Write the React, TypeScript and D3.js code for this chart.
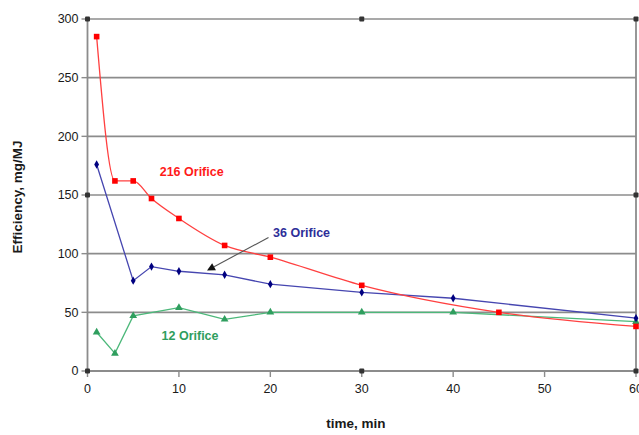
import React from "react";
import * as d3 from "d3";

const xTicks = [0, 10, 20, 30, 40, 50, 60];
const yTicks = [0, 50, 100, 150, 200, 250, 300];

const redX = [1, 3, 5, 7, 10, 15, 20, 30, 45, 60];
const redY = [285, 162, 162, 147, 130, 107, 97, 73, 50, 38];

const blueX = [1, 5, 7, 10, 15, 20, 30, 40, 60];
const blueY = [176, 77, 89, 85, 82, 74, 67, 62, 45];

const greenX = [1, 3, 5, 10, 15, 20, 30, 40, 60];
const greenY = [33, 15, 47, 54, 44, 50, 50, 50, 42];

const labels = [
  { text: "216 Orifice", x: 7.9, y: 170, color: "#ff1a1a" },
  { text: "36 Orifice", x: 20.3, y: 118, color: "#2e2e99" },
  { text: "12 Orifice", x: 8.1, y: 30, color: "#2f9e5e" },
];

const FONT = "'Liberation Sans', Arial, sans-serif";

export default function App() {
  const W = 639;
  const H = 435;
  const x = d3.scaleLinear().domain([0, 60]).range([87.5, 636]);
  const y = d3.scaleLinear().domain([0, 300]).range([371, 19]);

  const smooth = d3
    .line<[number, number]>()
    .x((d) => x(d[0]))
    .y((d) => y(d[1]))
    .curve(d3.curveMonotoneX);
  const straight = d3
    .line<[number, number]>()
    .x((d) => x(d[0]))
    .y((d) => y(d[1]));

  const red: [number, number][] = redX.map((v, i) => [v, redY[i]]);
  const blue: [number, number][] = blueX.map((v, i) => [v, blueY[i]]);
  const green: [number, number][] = greenX.map((v, i) => [v, greenY[i]]);

  const gridColor = "#8c8c8c";
  const handles: [number, number][] = [
    [0, 300], [30, 300], [60, 300],
    [0, 150], [60, 150],
    [0, 0], [30, 0], [60, 0],
  ];

  const tri = d3.symbol().type(d3.symbolTriangle).size(26)();
  const dia = d3.symbol().type(d3.symbolDiamond).size(20)();

  const ax1 = 268.5, ay1 = 237.5, ax2 = 207, ay2 = 270.5;
  const ang = Math.atan2(ay2 - ay1, ax2 - ax1);
  const ah = 8, aw = 4;
  const bx = ax2 - ah * Math.cos(ang), by = ay2 - ah * Math.sin(ang);
  const arrowHead = `M${ax2},${ay2} L${bx + aw * Math.sin(ang)},${by - aw * Math.cos(ang)} L${bx - aw * Math.sin(ang)},${by + aw * Math.cos(ang)} Z`;

  return (
    <svg
      width={W}
      height={H}
      style={{ position: "absolute", left: 0, top: 0, background: "#fff" }}
      fontFamily={FONT}
    >
      <rect x={0} y={0} width={W} height={H} fill="#fff" />
      {yTicks.map((t) => (
        <line key={"g" + t} x1={x(0)} x2={x(60)} y1={y(t)} y2={y(t)} stroke={gridColor} strokeWidth={1.6} />
      ))}
      <line x1={x(0)} x2={x(0)} y1={y(0)} y2={y(300)} stroke={gridColor} strokeWidth={1.8} />
      <line x1={x(60)} x2={x(60)} y1={y(0)} y2={y(300)} stroke={gridColor} strokeWidth={1.8} />
      <line x1={x(0)} x2={x(60)} y1={y(0)} y2={y(0)} stroke={gridColor} strokeWidth={1.8} />
      {yTicks.map((t) => (
        <g key={"yt" + t}>
          <line x1={x(0) - 6} x2={x(0)} y1={y(t)} y2={y(t)} stroke={gridColor} strokeWidth={1.4} />
          <text x={x(0) - 9} y={y(t)} dy="0.35em" textAnchor="end" fontSize={12.5} fill="#1a1a1a">
            {t}
          </text>
        </g>
      ))}
      {xTicks.map((t) => (
        <g key={"xt" + t}>
          <line x1={x(t)} x2={x(t)} y1={y(0)} y2={y(0) + 6} stroke={gridColor} strokeWidth={1.4} />
          <text x={x(t)} y={y(0) + 22} textAnchor="middle" fontSize={12.5} fill="#1a1a1a">
            {t}
          </text>
        </g>
      ))}
      {handles.map((h, i) => (
        <rect key={"h" + i} x={x(h[0]) - 2.5} y={y(h[1]) - 2.5} width={5} height={5} fill="#333" rx={1} />
      ))}
      <text
        transform={`translate(22,${197}) rotate(-90)`}
        textAnchor="middle"
        fontSize={13.5}
        fontWeight="bold"
        fill="#1a1a1a"
      >
        Efficiency, mg/MJ
      </text>
      <text x={356} y={428} textAnchor="middle" fontSize={13.5} fontWeight="bold" fill="#1a1a1a">
        time, min
      </text>
      <path d={straight(green) || ""} fill="none" stroke="#4cb87a" strokeWidth={1.3} />
      <path d={straight(blue) || ""} fill="none" stroke="#4646b0" strokeWidth={1.3} />
      <path d={smooth(red) || ""} fill="none" stroke="#ff4040" strokeWidth={1.3} />
      {green.map((d, i) => (
        <path key={"gm" + i} d={tri || ""} transform={`translate(${x(d[0])},${y(d[1])})`} fill="#2f9e5e" />
      ))}
      {blue.map((d, i) => (
        <path key={"bm" + i} d={dia || ""} transform={`translate(${x(d[0])},${y(d[1])})`} fill="#000080" />
      ))}
      {red.map((d, i) => (
        <rect key={"rm" + i} x={x(d[0]) - 2.8} y={y(d[1]) - 2.8} width={5.6} height={5.6} fill="#ff0000" />
      ))}
      <line x1={ax1} y1={ay1} x2={bx} y2={by} stroke="#555" strokeWidth={1.1} />
      <path d={arrowHead} fill="#111" />
      {labels.map((l) => (
        <text key={l.text} x={x(l.x)} y={y(l.y)} dy="0.35em" fontSize={12.5} fontWeight="bold" fill={l.color}>
          {l.text}
        </text>
      ))}
    </svg>
  );
}
